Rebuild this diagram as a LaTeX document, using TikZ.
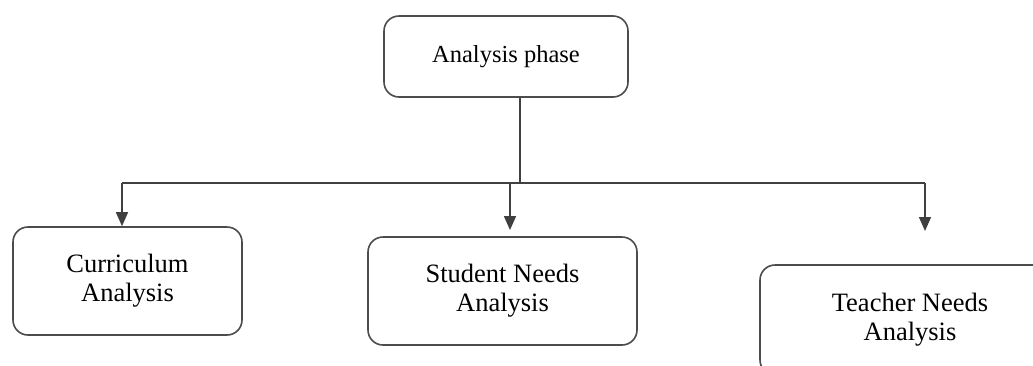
\documentclass[tikz,border=0pt]{standalone}
\usepackage{fontspec}
\setmainfont{Liberation Serif}
\usetikzlibrary{arrows.meta}
\begin{document}
\begin{tikzpicture}[x=1pt,y=-1pt,
  box/.style={draw=black!70,line width=1.6pt,rounded corners=15pt,align=center,inner sep=0pt,fill=white},
  lowtext/.style={font=\fontsize{26.5}{29}\selectfont},
  conn/.style={draw=black!75,line width=1.5pt},
  arr/.style={conn,-{Triangle[width=12pt,length=14pt]}}]
\useasboundingbox (0,0) rectangle (1033,365);
\clip (0,0) rectangle (1033,365);
\node[box,minimum width=244pt,minimum height=81pt,font=\fontsize{24.5}{28}\selectfont] (top) at (506,56.5) {Analysis phase};
\node[box,lowtext,minimum width=229pt,minimum height=108pt] (c1) at (127.5,281) {Curriculum\\Analysis};
\node[box,lowtext,minimum width=269pt,minimum height=108pt] (c2) at (502.5,291) {Student Needs\\Analysis};
\node[box,lowtext,minimum width=300pt,minimum height=110pt] (c3) at (910,320) {Teacher Needs\\Analysis};
\coordinate (j) at (520,183);
\coordinate (a1) at (122,183);
\coordinate (a2) at (510,183);
\coordinate (a3) at (925,183);
\coordinate (t2) at (510,230);
\coordinate (t3) at (925,231);
\draw[conn] (top.south -| j) -- (j);
\draw[conn] (a1) -- (a3);
\draw[arr] (a1) -- (c1.north -| a1);
\draw[arr] (a2) -- (t2);
\draw[arr] (a3) -- (t3);
\end{tikzpicture}
\end{document}
